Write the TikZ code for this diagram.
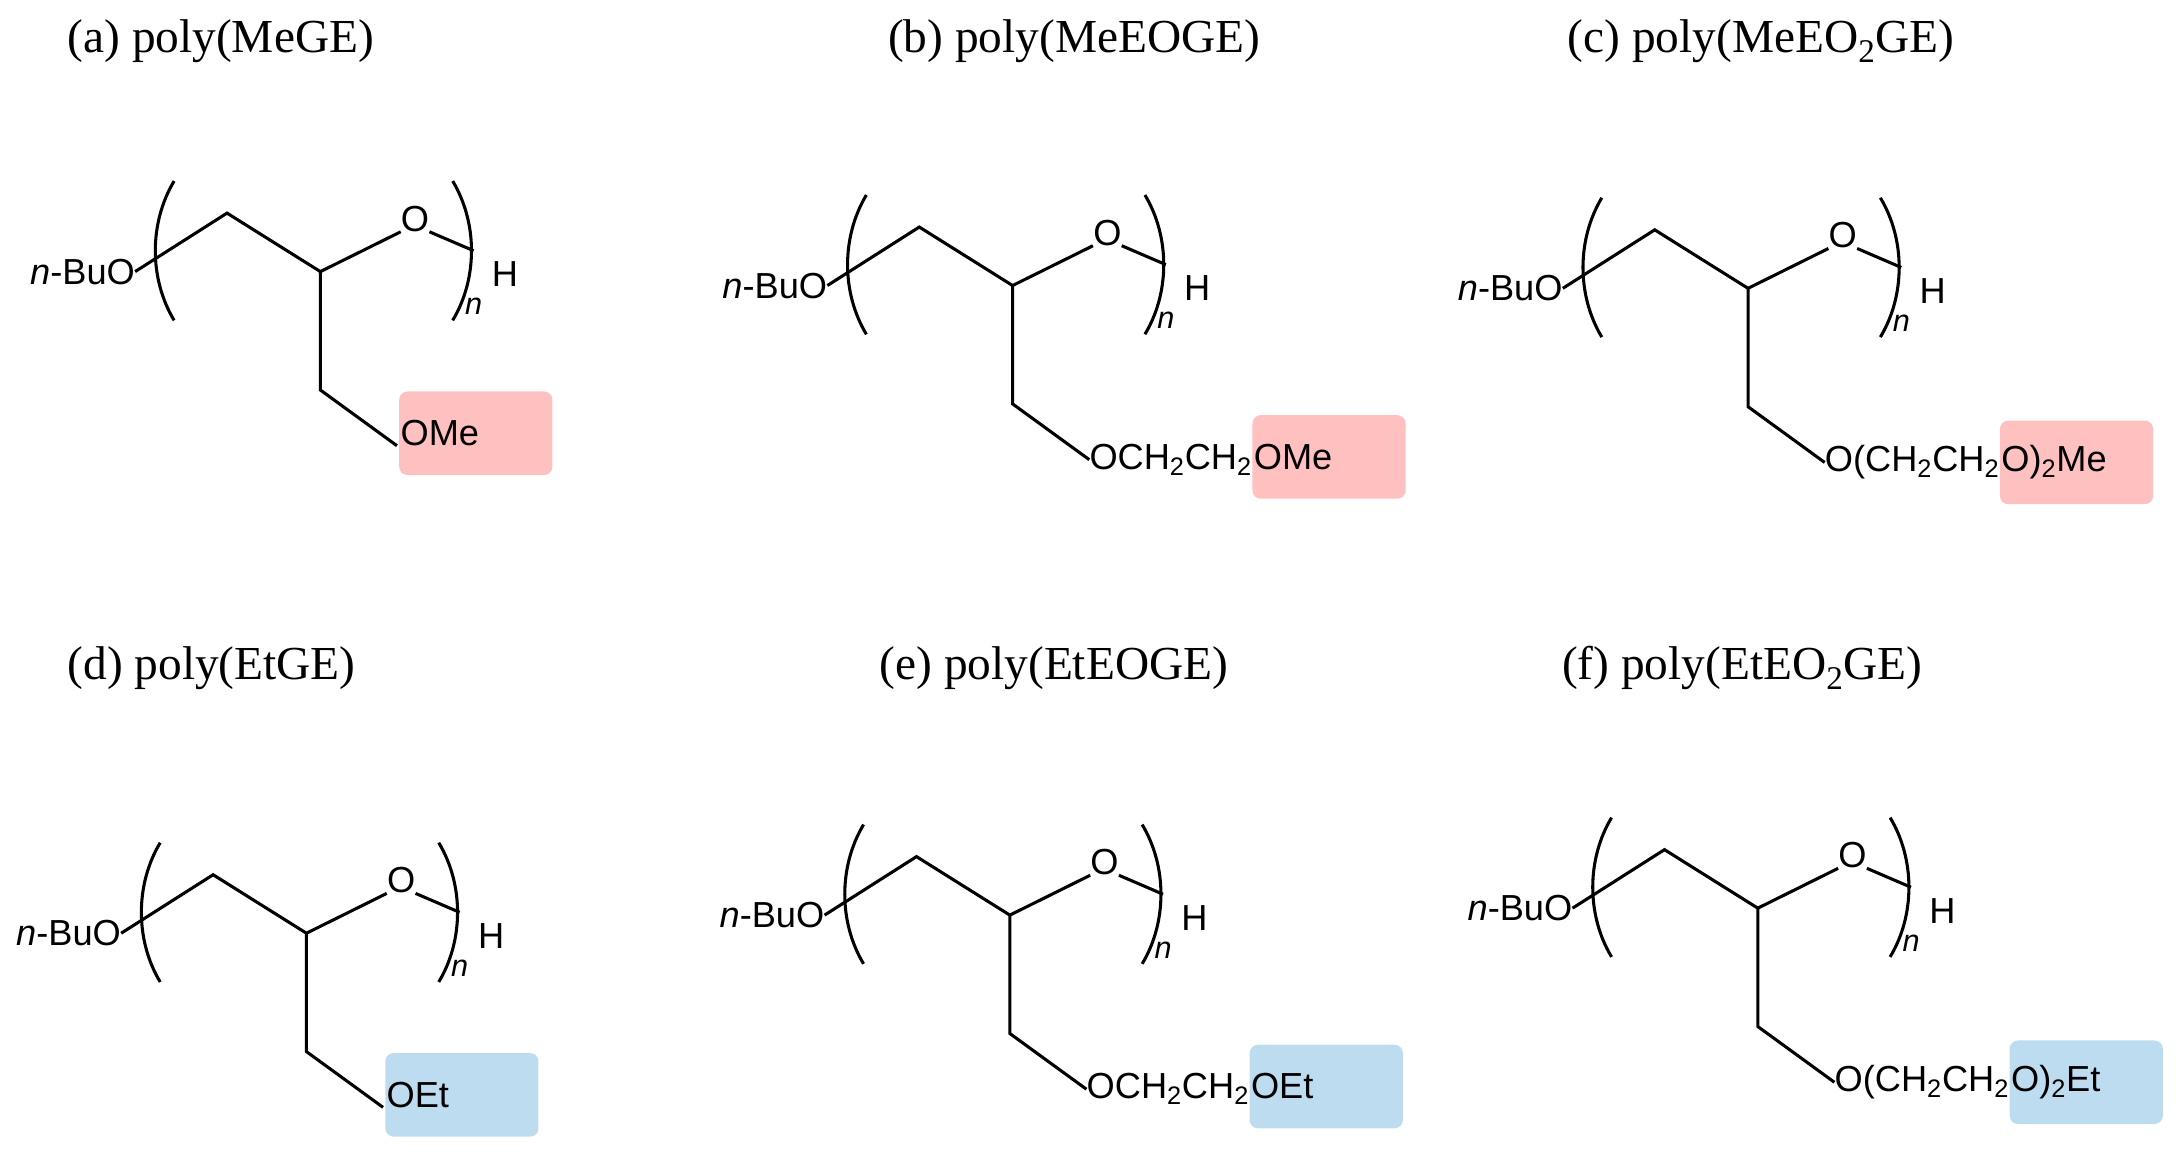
\documentclass[tikz,border=0pt]{standalone}
\usepackage{fontspec}
\setmainfont{Liberation Serif}
\setsansfont{Liberation Sans}
\definecolor{pinkb}{RGB}{255,192,192}
\definecolor{blueb}{RGB}{190,220,240}
\tikzset{
  bond/.style={line width=2.2pt},
  chem/.style={font=\fontsize{26}{26}\sffamily, inner sep=0pt},
  ttl/.style={font=\fontsize{34}{34}\selectfont, anchor=base west},
  hbox/.style={font=\fontsize{26}{26}\sffamily, anchor=base west, rounded corners=6pt, minimum height=60pt, text width=108pt, inner xsep=1pt, inner ysep=0pt}
}
\newcommand\polymol[5]{%
\begin{scope}[shift={#1}]
  \node[chem, anchor=east] (#2bu) at (2,0) {\textit{n}-BuO};
  \coordinate (#2o) at (2,0);
  \coordinate (#2a) at (68,-42);
  \coordinate (#2b) at (135,0);
  \node[chem] (#2O) at (203,-38) {O};
  \coordinate (#2d) at (245,-15);
  \node[chem, anchor=west] (#2H) at (258,2) {H};
  \node[chem, font=\fontsize{22}{22}\sffamily\itshape] (#2n) at (245,25) {n};
  \draw[bond] (#2o) -- (#2a) -- (#2b) -- (#2O.south west);
  \draw[bond] (#2O.south east) -- (#2d);
  \draw[bond] (30,-65) .. controls (12,-35) and (12,5) .. (30,35);
  \draw[bond] (230,-65) .. controls (248,-35) and (248,5) .. (230,35);
  \coordinate (#2e) at (135,85);
  \coordinate (#2f) at (190,125);
  \draw[bond] (#2b) -- (#2e) -- (#2f);
  \node[chem, anchor=west] (#2p) at (#2f) {#3};
  \node[hbox, fill=#5] (#2s) at (#2p.base east) {#4};
\end{scope}}
\begin{document}
\begin{tikzpicture}[x=1pt,y=-1pt]
\useasboundingbox (0,0) rectangle (1568,830);
\node[ttl] (ta) at (45,38) {(a) poly(MeGE)};
\node[ttl] (tb) at (634,38) {(b) poly(MeEOGE)};
\node[ttl] (tc) at (1122,38) {(c) poly(MeEO\textsubscript{2}GE)};
\node[ttl] (td) at (45,488) {(d) poly(EtGE)};
\node[ttl] (te) at (628,488) {(e) poly(EtEOGE)};
\node[ttl] (tf) at (1118,488) {(f) poly(EtEO\textsubscript{2}GE)};
\polymol{(95,195)}{A}{}{OMe}{pinkb}
\polymol{(592,205)}{B}{OCH\textsubscript{2}CH\textsubscript{2}}{OMe}{pinkb}
\polymol{(1120,207)}{C}{O(CH\textsubscript{2}CH\textsubscript{2}}{O)\textsubscript{2}Me}{pinkb}
\polymol{(85,670)}{D}{}{OEt}{blueb}
\polymol{(590,657)}{E}{OCH\textsubscript{2}CH\textsubscript{2}}{OEt}{blueb}
\polymol{(1127,652)}{F}{O(CH\textsubscript{2}CH\textsubscript{2}}{O)\textsubscript{2}Et}{blueb}
\end{tikzpicture}
\end{document}
